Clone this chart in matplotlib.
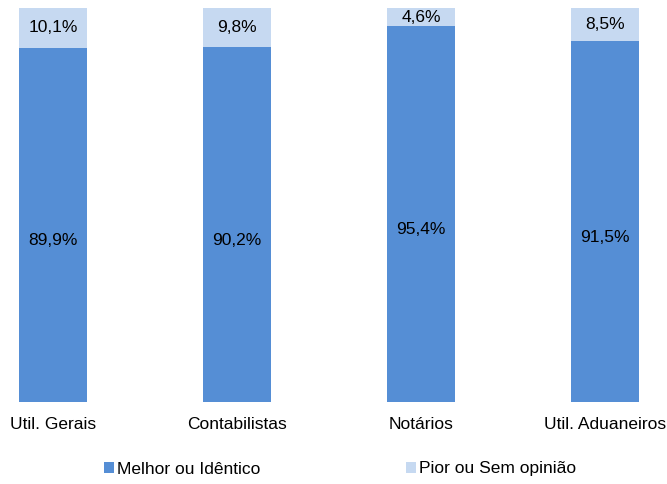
import matplotlib.pyplot as plt

plt.rcParams['font.family'] = ['Liberation Sans', 'DejaVu Sans']

# data
categories = ["Util. Gerais", "Contabilistas", "Notários", "Util. Aduaneiros"]
melhor = [89.9, 90.2, 95.4, 91.5]
pior = [10.1, 9.8, 4.6, 8.5]
series_names = ["Melhor ou Idêntico", "Pior ou Sem opinião"]

dark = "#558ED5"
light = "#C6D9F1"

fig = plt.figure(figsize=(6.67, 4.84), dpi=100)
ax = fig.add_axes([0, (484 - 402) / 484, 1, 394 / 484])

x = range(len(categories))
b1 = ax.bar(x, melhor, width=0.37, color=dark, label=series_names[0])
b2 = ax.bar(x, pior, width=0.37, bottom=melhor, color=light, label=series_names[1])

for i in x:
    ax.text(i, melhor[i] / 2 - 4, f"{melhor[i]:.1f}%".replace(".", ","),
            ha="center", va="center", fontsize=12.5)
    ax.text(i, melhor[i] + pior[i] / 2, f"{pior[i]:.1f}%".replace(".", ","),
            ha="center", va="center", fontsize=12.5)

ax.set_xlim(-53 / 184, 3 + 62 / 184)
ax.set_ylim(0, 100)
ax.set_xticks(list(x))
ax.set_xticklabels(categories, fontsize=12.5)
ax.tick_params(axis="x", length=0, pad=11)
ax.set_yticks([])
for s in ax.spines.values():
    s.set_visible(False)

fig.legend(handles=[b1, b2], labels=series_names, loc="center",
           bbox_to_anchor=(340 / 667, 1 - 469 / 484), ncol=2, frameon=False,
           fontsize=12.5, handlelength=0.6, handleheight=0.6, handletextpad=0.15,
           columnspacing=8.4)

fig.savefig("out.png", dpi=100)
